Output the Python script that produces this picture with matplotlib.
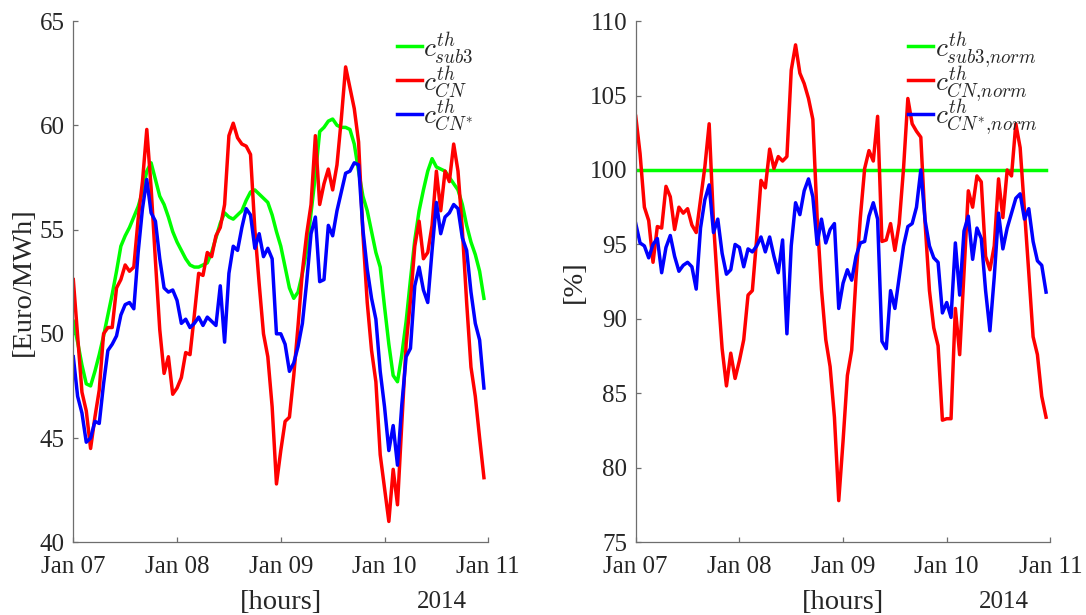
import numpy as np
import pandas as pd
import matplotlib
matplotlib.use('Agg')
import matplotlib.pyplot as plt
import matplotlib.dates as mdates

plt.rcParams['font.family'] = ['Liberation Serif', 'DejaVu Serif']
plt.rcParams['mathtext.fontset'] = 'cm'

# hourly thermal cost, 7-10 Jan 2014
hours = pd.date_range('2014-01-07 00:00', periods=96, freq='h')

c_sub3 = [50.6, 49.6, 48.5, 47.6, 47.5, 48.2, 49.0, 49.9, 50.9, 51.9, 53.0, 54.2,
          54.7, 55.1, 55.6, 56.1, 56.8, 57.8, 58.2, 57.4, 56.6, 56.2, 55.6, 54.9,
          54.4, 54.0, 53.6, 53.3, 53.2, 53.2, 53.3, 53.4, 53.9, 54.6, 55.3, 55.8,
          55.6, 55.5, 55.7, 55.9, 56.4, 56.8, 56.9, 56.7, 56.5, 56.3, 55.7, 54.9,
          54.2, 53.2, 52.2, 51.7, 52.0, 52.9, 54.0, 55.8, 57.6, 59.7, 59.9, 60.2,
          60.3, 60.0, 59.9, 59.9, 59.8, 59.1, 57.8, 56.6, 55.9, 54.9, 53.9, 53.2,
          51.3, 49.5, 48.0, 47.7, 49.0, 50.6, 52.6, 54.5, 55.9, 56.9, 57.8, 58.4,
          58.0, 57.9, 57.8, 57.5, 57.2, 56.9, 56.2, 55.2, 54.4, 53.8, 53.0, 51.7]

c_cn = [52.6, 49.9, 47.2, 46.3, 44.5, 46.0, 47.3, 50.0, 50.3, 50.3, 52.2, 52.6,
        53.3, 53.0, 53.2, 55.5, 57.3, 59.8, 57.0, 53.5, 50.2, 48.1, 48.9, 47.1,
        47.4, 47.9, 49.1, 49.0, 50.9, 52.9, 52.8, 53.9, 53.7, 54.7, 55.1, 56.2,
        59.5, 60.1, 59.4, 59.1, 59.0, 58.6, 55.0, 52.4, 50.0, 48.9, 46.5, 42.8,
        44.4, 45.8, 46.0, 48.0, 50.4, 53.0, 54.8, 56.2, 59.5, 56.2, 57.2, 57.9,
        56.9, 58.1, 60.3, 62.8, 61.8, 60.8, 59.2, 54.8, 51.5, 49.2, 47.7, 44.2,
        42.6, 41.0, 43.5, 41.8, 45.7, 49.5, 51.6, 54.2, 55.4, 53.6, 53.9, 55.2,
        57.8, 55.9, 57.8, 57.3, 59.1, 57.8, 55.0, 51.5, 48.4, 47.0, 45.0, 43.1]

c_cn_star = [48.9, 47.0, 46.2, 44.8, 45.0, 45.8, 45.7, 47.6, 49.2, 49.5, 49.9, 50.9,
             51.4, 51.5, 51.2, 53.9, 56.0, 57.4, 55.8, 55.4, 53.6, 52.2, 52.0, 52.1,
             51.6, 50.5, 50.7, 50.3, 50.5, 50.8, 50.4, 50.8, 50.6, 50.4, 52.3, 49.6,
             52.9, 54.2, 54.0, 55.1, 56.0, 55.7, 54.1, 54.8, 53.7, 54.1, 53.6, 50.0,
             50.0, 49.5, 48.2, 48.6, 49.4, 50.5, 52.5, 54.8, 55.6, 52.5, 52.6, 55.2,
             54.7, 55.9, 56.8, 57.7, 57.8, 58.2, 58.1, 55.0, 53.1, 51.7, 50.7, 48.2,
             46.5, 44.4, 45.6, 43.7, 46.6, 48.9, 49.3, 52.3, 53.2, 52.1, 51.5, 54.0,
             56.3, 54.8, 55.6, 55.8, 56.2, 56.0, 54.6, 54.0, 52.0, 50.5, 49.7, 47.4]

# normalised to the sub3 cost [%]
c_sub3_norm = [100.0] * 96

c_cn_norm = [103.6, 101.1, 97.5, 96.6, 93.8, 96.2, 96.1, 98.9, 98.2, 96.0, 97.5, 97.1,
             97.4, 96.3, 95.8, 98.0, 100.2, 103.1, 96.5, 92.0, 88.0, 85.5, 87.7, 86.0,
             87.2, 88.6, 91.6, 91.9, 95.4, 99.3, 98.8, 101.4, 100.1, 100.9, 100.6, 100.9,
             106.7, 108.4, 106.5, 105.8, 104.8, 103.4, 96.8, 92.0, 88.6, 86.8, 83.4, 77.8,
             81.8, 86.2, 87.9, 92.8, 96.8, 100.1, 101.3, 100.6, 103.6, 95.2, 95.3, 96.4,
             94.6, 96.4, 100.1, 104.8, 103.1, 102.6, 102.2, 96.4, 91.9, 89.4, 88.2, 83.2,
             83.3, 83.3, 90.7, 87.6, 93.1, 98.6, 97.5, 99.6, 99.2, 94.2, 93.3, 94.9,
             99.4, 96.8, 100.0, 99.6, 103.1, 101.5, 97.3, 93.1, 88.8, 87.6, 84.8, 83.4]

c_cn_star_norm = [96.4, 95.1, 94.9, 94.1, 95.0, 95.4, 93.1, 94.8, 95.6, 94.2, 93.2, 93.6,
                  93.8, 93.5, 92.0, 96.1, 98.0, 99.0, 95.8, 96.7, 94.4, 93.0, 93.3, 95.0,
                  94.8, 93.5, 94.7, 94.5, 94.9, 95.5, 94.5, 95.5, 94.2, 93.1, 95.3, 89.0,
                  94.9, 97.8, 97.0, 98.6, 99.4, 98.2, 95.0, 96.7, 95.1, 96.0, 96.4, 90.7,
                  92.4, 93.3, 92.6, 94.2, 95.1, 95.2, 96.9, 97.8, 96.7, 88.5, 88.0, 91.9,
                  90.7, 92.8, 94.9, 96.2, 96.4, 97.5, 100.0, 96.6, 94.9, 94.1, 93.8, 90.4,
                  91.1, 90.1, 95.1, 91.6, 95.9, 96.9, 94.0, 96.1, 95.4, 91.9, 89.2, 92.8,
                  97.1, 94.7, 96.1, 97.1, 98.1, 98.4, 96.7, 97.4, 95.2, 93.9, 93.6, 91.8]

labels_abs = [r'$c^{th}_{sub3}$', r'$c^{th}_{CN}$', r'$c^{th}_{CN^{*}}$']
labels_norm = [r'$c^{th}_{sub3{,}norm}$', r'$c^{th}_{CN{,}norm}$', r'$c^{th}_{CN^{*}{,}norm}$']
colors = ['#00ff00', '#ff0000', '#0000ff']

AX_COL = '#6e6e6e'
TXT_COL = '#262626'

fig = plt.figure(figsize=(10.86, 6.15), dpi=100)
ax1 = fig.add_axes([0.0675, 0.1182, 0.3821, 0.8476])
ax2 = fig.add_axes([0.5854, 0.1182, 0.3818, 0.8476])


def style(ax, ylim, yticks, ylabel, ylab_x):
    ax.set_xlim(pd.Timestamp('2014-01-07'), pd.Timestamp('2014-01-11'))
    ax.set_ylim(*ylim)
    ax.set_yticks(yticks)
    ax.xaxis.set_major_locator(mdates.DayLocator())
    ax.xaxis.set_major_formatter(mdates.DateFormatter('%b %d'))
    for s in ('top', 'right'):
        ax.spines[s].set_visible(False)
    for s in ('left', 'bottom'):
        ax.spines[s].set_color(AX_COL)
        ax.spines[s].set_linewidth(0.9)
    ax.tick_params(axis='both', direction='in', length=3.5, width=0.9,
                   color=AX_COL, labelcolor=TXT_COL, labelsize=18)
    ax.tick_params(axis='x', pad=10)
    ax.tick_params(axis='y', pad=6)
    ax.set_xlabel('[hours]', fontsize=20.5, color=TXT_COL, va='top')
    ax.xaxis.set_label_coords(0.5, -0.092)
    ax.set_ylabel(ylabel, fontsize=20.5, color=TXT_COL)
    ax.yaxis.set_label_coords(ylab_x, 0.5)
    ax.text(0.888, -0.094, '2014', transform=ax.transAxes, ha='center', va='top',
            fontsize=18, color=TXT_COL)


for ax, series in [(ax1, [c_sub3, c_cn, c_cn_star]),
                   (ax2, [c_sub3_norm, c_cn_norm, c_cn_star_norm])]:
    for vals, col in zip(series, colors):
        ax.plot(hours, vals, color=col, lw=2.5)

style(ax1, (40, 65), np.arange(40, 66, 5), '[Euro/MWh]', -0.091)
style(ax2, (75, 110), np.arange(75, 111, 5), '[%]', -0.119)

# legends without frame, drawn as short line swatches + text
leg_y = [0.952, 0.886, 0.8225]
for ax, labels, x0 in [(ax1, labels_abs, 0.779), (ax2, labels_norm, 0.6575)]:
    for y, lab, col in zip(leg_y, labels, colors):
        ax.plot([x0, x0 + 0.0603], [y, y], color=col, lw=2.5,
                transform=ax.transAxes, clip_on=False)
        ax.text(x0 + 0.064, y - 0.020, lab, transform=ax.transAxes,
                ha='left', va='baseline', fontsize=19.5, color=TXT_COL)

fig.savefig('out.png', dpi=100)
